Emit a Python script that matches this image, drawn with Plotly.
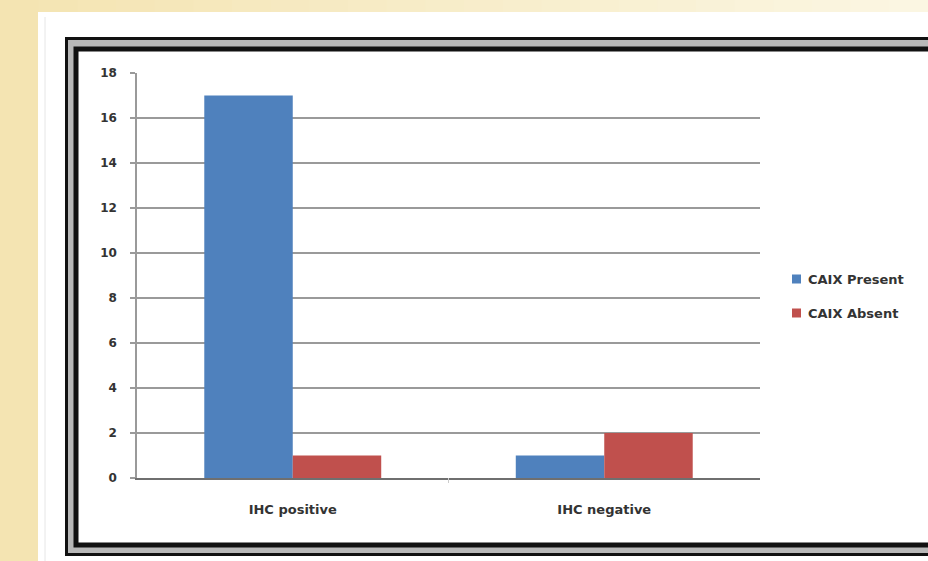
import plotly.graph_objects as go

# Data
categories = ["IHC positive", "IHC negative"]
series_names = ["CAIX Present", "CAIX Absent"]
caix_present = [17, 1]
caix_absent = [1, 2]
series_colors = ["#4f81bd", "#c0504d"]
y_ticks = [0, 2, 4, 6, 8, 10, 12, 14, 16, 18]

W, H = 928, 561
L, R, T, B = 137, 168, 73, 83
PW, PH = W - L - R, H - T - B


def px(x):
    return (x - L) / PW


def py(y):
    return (H - B - y) / PH


fig = go.Figure()
for name, vals, col in zip(series_names, [caix_present, caix_absent], series_colors):
    fig.add_trace(go.Bar(name=name, x=categories, y=vals,
                         marker=dict(color=col, line=dict(width=0)),
                         showlegend=False))

shapes = []
annotations = []
# cream backdrop with a soft horizontal gradient
n = 24
c0, c1 = (244, 228, 178), (251, 246, 226)
for i in range(n):
    t = i / (n - 1)
    col = tuple(round(c0[k] + (c1[k] - c0[k]) * t) for k in range(3))
    shapes.append(dict(type="rect", xref="paper", yref="paper", layer="below",
                       x0=px(W * i / n), x1=px(W * (i + 1) / n + 1),
                       y0=py(H), y1=py(0),
                       fillcolor="rgb(%d,%d,%d)" % col, line=dict(width=0)))
# white slide panel
shapes.append(dict(type="rect", xref="paper", yref="paper", layer="below",
                   x0=px(38), x1=px(W + 10), y0=py(H + 10), y1=py(12),
                   fillcolor="#ffffff", line=dict(width=0)))
shapes.append(dict(type="line", xref="paper", yref="paper", layer="below",
                   x0=px(45), x1=px(45), y0=py(H + 10), y1=py(17),
                   line=dict(color="#e6e6e6", width=1)))
# double frame around the chart
shapes.append(dict(type="rect", xref="paper", yref="paper", layer="below",
                   x0=px(66.5), x1=px(W + 20), y0=py(554.5), y1=py(38.5),
                   fillcolor="#b8b8b8", line=dict(color="#111111", width=3)))
shapes.append(dict(type="rect", xref="paper", yref="paper", layer="below",
                   x0=px(76), x1=px(W + 20), y0=py(545), y1=py(49),
                   fillcolor="#ffffff", line=dict(color="#111111", width=5)))
# faint category divider tick
shapes.append(dict(type="line", xref="paper", yref="paper", layer="above",
                   x0=0.5, x1=0.5, y0=0, y1=py(483),
                   line=dict(color="#cccccc", width=1)))

# legend: colour key squares with series names
for i, (name, col) in enumerate(zip(series_names, series_colors)):
    cy = 279 + 34 * i
    shapes.append(dict(type="rect", xref="paper", yref="paper", layer="above",
                       x0=px(792), x1=px(801), y0=py(cy + 4.5), y1=py(cy - 4.5),
                       fillcolor=col, line=dict(width=0)))
    annotations.append(dict(text=name, xref="paper", yref="paper",
                            x=px(806), y=py(cy), xanchor="left", yanchor="middle",
                            showarrow=False,
                            font=dict(family="DejaVu Sans", size=13, color="#333333",
                                      weight="bold")))

fig.update_layout(
    width=W, height=H,
    margin=dict(l=L, r=R, t=T, b=B),
    paper_bgcolor="#f7ecc9",
    plot_bgcolor="rgba(0,0,0,0)",
    barmode="group",
    bargap=0.432,
    bargroupgap=0,
    shapes=shapes,
    annotations=annotations,
    showlegend=False,
    font=dict(family="DejaVu Sans", color="#333333"),
)
fig.update_yaxes(range=[0, 18], tickvals=y_ticks, ticktext=[str(v) for v in y_ticks],
                 showgrid=True, gridcolor="#9a9a9a", gridwidth=1.5,
                 showline=True, linecolor="#9a9a9a", linewidth=1.5,
                 ticks="outside", ticklen=5, tickcolor="#9a9a9a", tickwidth=1.5,
                 ticklabelstandoff=11, zeroline=False,
                 tickfont=dict(family="DejaVu Sans", size=12, color="#333333",
                               weight="bold"))
fig.update_xaxes(showline=True, linecolor="#6f6f6f", linewidth=2,
                 ticks="", ticklabelstandoff=18, showgrid=False,
                 tickfont=dict(family="DejaVu Sans", size=13, color="#333333",
                               weight="bold"))

fig.write_html("out.html")
